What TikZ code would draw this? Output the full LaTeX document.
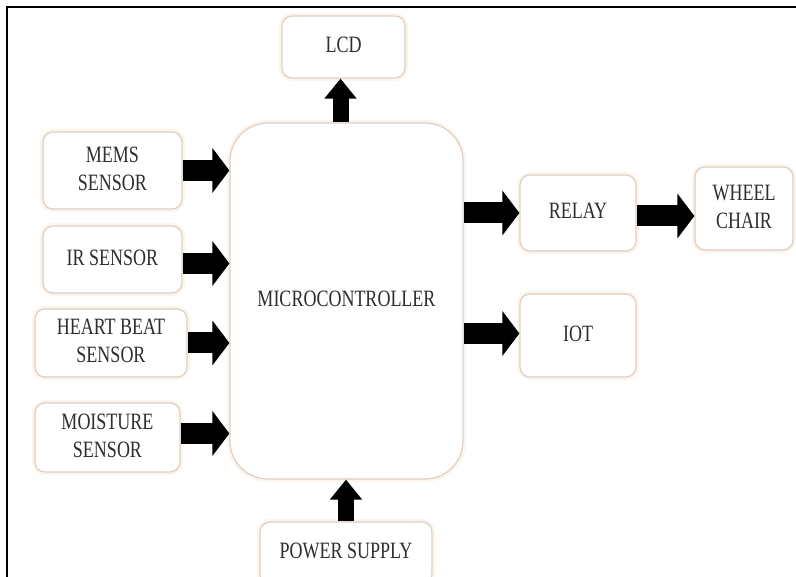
\documentclass[tikz,border=0pt]{standalone}
\usepackage{fontspec}
\usepackage{graphicx}
\setmainfont{Liberation Serif}
\usetikzlibrary{arrows.meta}
\definecolor{boxc}{HTML}{DDD0C3}
\definecolor{glowc}{HTML}{FCF5EE}
\definecolor{txtc}{HTML}{2E2E2E}
\newcommand{\vtxt}[1]{\scalebox{1}[1.3]{\begin{tabular}{@{}c@{}}#1\end{tabular}}}
\begin{document}
\begin{tikzpicture}[x=1pt,y=-1pt,
  blk/.style={draw=boxc, line width=1.2pt, fill=white, rounded corners=10pt,
    preaction={draw=glowc, line width=6pt},
    inner sep=0pt, text=txtc, font=\fontsize{18}{21.6}\selectfont, align=center},
  harrow/.style={line width=21pt, draw=black, -{Triangle[length=17pt,width=44pt]}},
  varrow/.style={line width=16pt, draw=black, -{Triangle[length=20pt,width=31pt]}}]
\path[use as bounding box] (0,0) rectangle (796,577);
\clip (0,0) rectangle (796,577);
% frame
\coordinate (ftr) at (800,7);
\coordinate (ftl) at (7,7);
\coordinate (fbl) at (7,580);
\draw[line width=2pt] (ftr) -- (ftl) -- (fbl);
% nodes
\node[blk, minimum width=233pt, minimum height=356pt, rounded corners=38pt] (mc) at (346.5,301) {\vtxt{MICROCONTROLLER}};
\node[blk, minimum width=123pt, minimum height=62pt] (lcd) at (343.5,47) {\vtxt{LCD}};
\node[blk, minimum width=139pt, minimum height=77pt] (mems) at (112.5,170.5) {\vtxt{MEMS\\SENSOR}};
\node[blk, minimum width=139pt, minimum height=67pt] (ir) at (112.5,259.5) {\vtxt{IR SENSOR}};
\node[blk, minimum width=152pt, minimum height=68pt] (hb) at (111,343) {\vtxt{HEART BEAT\\SENSOR}};
\node[blk, minimum width=145pt, minimum height=69pt] (ms) at (107.5,437.5) {\vtxt{MOISTURE\\SENSOR}};
\node[blk, minimum width=172pt, minimum height=62pt] (ps) at (346,553) {\vtxt{POWER SUPPLY}};
\node[blk, minimum width=116pt, minimum height=76pt] (rl) at (578,213) {\vtxt{RELAY}};
\node[blk, minimum width=98pt, minimum height=83pt] (wc) at (744,208.5) {\vtxt{WHEEL\\CHAIR}};
\node[blk, minimum width=116pt, minimum height=83pt] (iot) at (578,335.5) {\vtxt{IOT}};
% arrows
\draw[varrow] ([xshift=-3pt]lcd.south |- mc.north) -- ([xshift=-3pt]lcd.south);
\draw[varrow] (ps.north) -- (ps.north |- mc.south);
\draw[harrow] (mems.east) -- (mems.east -| mc.west);
\draw[harrow] ([yshift=-4pt]ir.east) -- ([yshift=-4pt]ir.east -| mc.west);
\draw[harrow] (hb.east) -- (hb.east -| mc.west);
\draw[harrow] ([yshift=4pt]ms.east) -- ([yshift=4pt]ms.east -| mc.west);
\draw[harrow] (rl.west -| mc.east) -- (rl.west);
\draw[harrow] ([yshift=-3pt]rl.east) -- ([yshift=-3pt]rl.east -| wc.west);
\draw[harrow] ([yshift=2pt]iot.west -| mc.east) -- ([yshift=2pt]iot.west);
\end{tikzpicture}
\end{document}
